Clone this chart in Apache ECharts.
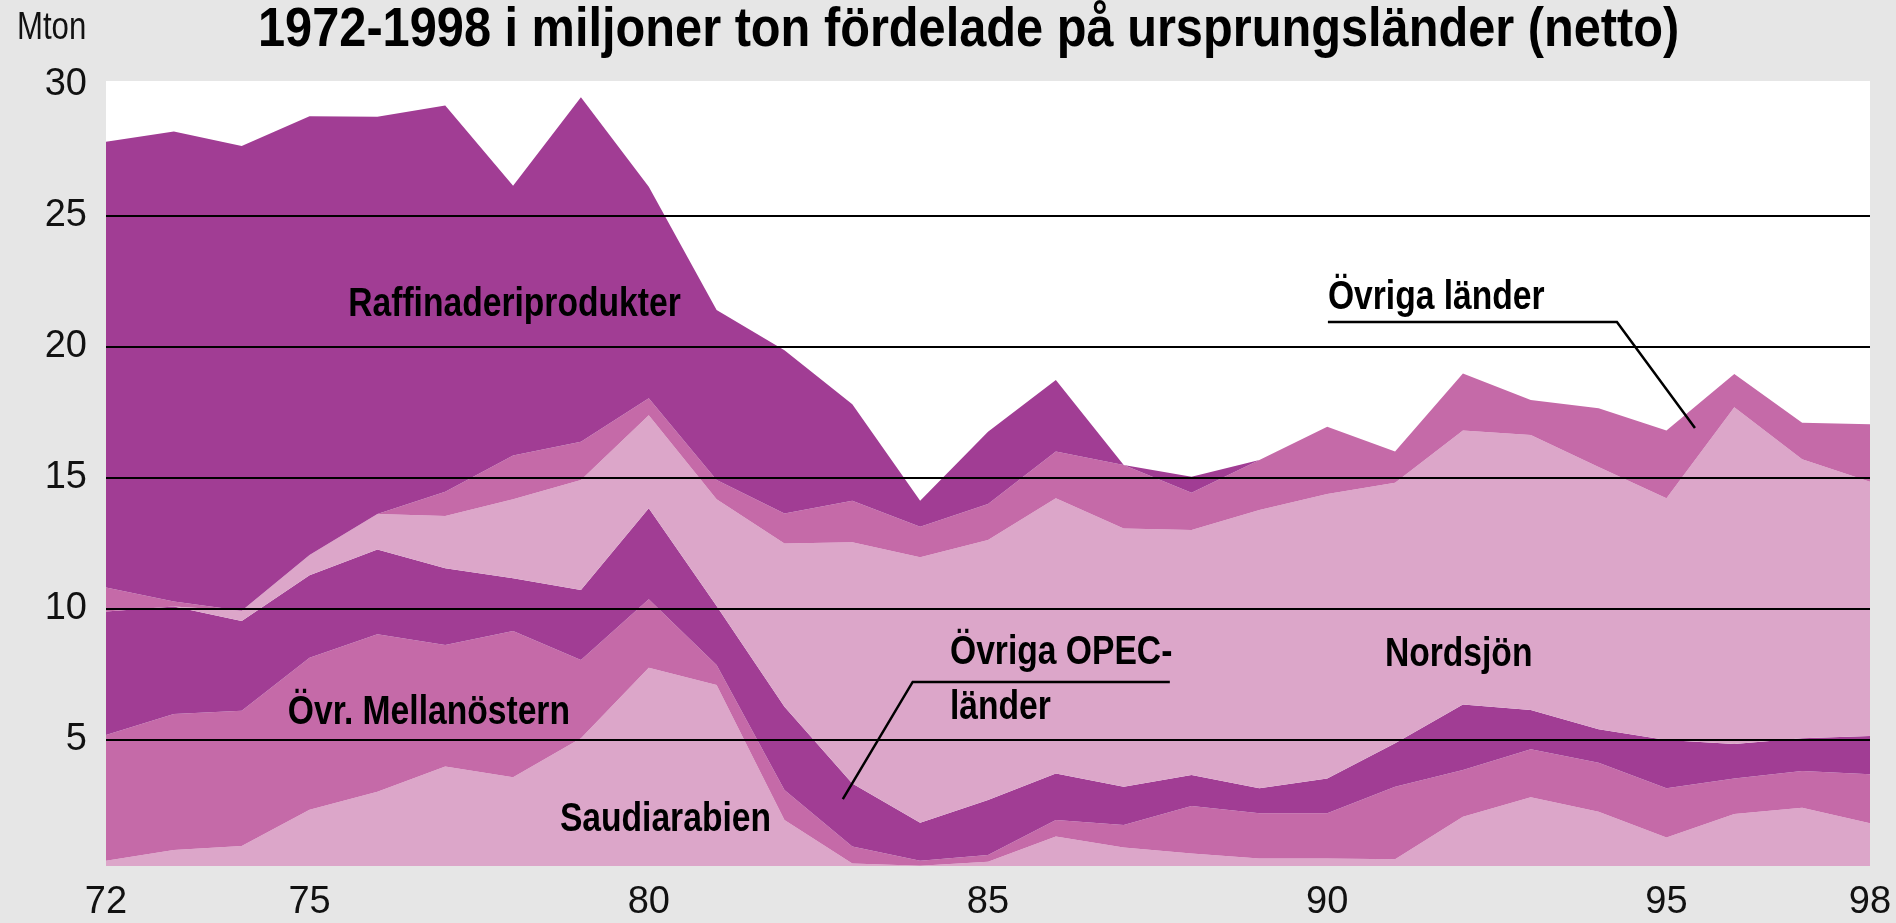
<!DOCTYPE html>
<html><head><meta charset="utf-8">
<script src="https://cdn.jsdelivr.net/npm/echarts@6/dist/echarts.min.js"></script>
<style>html,body{margin:0;padding:0;background:#e6e6e6;} #c{width:1896px;height:923px;}</style>
</head><body><div id="c"></div>
<script>
// ---- data (Mton) ----
const years = ['72','73','74','75','76','77','78','79','80','81','82','83','84','85','86','87','88','89','90','91','92','93','94','95','96','97','98'];
const saudiarabien = [0.39,0.80,0.95,2.33,3.02,3.98,3.57,5.06,7.75,7.09,1.94,0.29,0.20,0.35,1.31,0.90,0.67,0.48,0.48,0.45,2.07,2.81,2.26,1.28,2.17,2.41,1.82];
const ovrMellanostern = [4.79,5.19,5.16,5.80,6.01,4.64,5.58,2.98,2.61,0.76,1.15,0.64,0.19,0.26,0.63,0.85,1.81,1.72,1.72,2.76,1.78,1.83,1.87,1.87,1.36,1.40,1.87];
const ovrigaOpec = [4.71,4.09,3.42,3.15,3.23,2.92,2.01,2.67,3.47,2.25,3.17,2.41,1.45,2.10,1.78,1.46,1.18,0.95,1.33,1.66,2.50,1.50,1.27,1.84,1.31,1.25,1.46];
const nordsjon = [0,0,0.39,0.77,1.35,1.99,3.01,4.20,3.55,4.07,6.23,9.19,10.12,9.91,10.49,9.85,9.34,10.61,10.84,9.93,10.44,10.48,10.00,9.22,12.84,10.64,9.69];
const ovrigaLander = [0.92,0.19,0,0,0,0.93,1.67,1.46,0.64,0.74,1.14,1.59,1.16,1.37,1.78,2.42,1.42,1.91,2.57,1.19,2.18,1.34,2.24,2.58,1.27,1.39,2.19];
const raffinaderiprodukter = [16.99,17.92,17.72,16.73,15.15,14.73,10.29,13.13,8.07,6.48,6.22,3.68,1.00,2.76,2.73,0,0.61,0,0,0,0,0,0,0,0,0,0];
const yTickLabels = [5,10,15,20,25,30];
const gridValues = [5,10,15,20,25];
const xTickLabels = ['72','75','80','85','90','95','98'];

const FN = "'Liberation Sans',Arial,sans-serif";
const COL = {dark:'#a13d94', mid:'#c56aa8', light:'#dca6c9'};

const chart = echarts.init(document.getElementById('c'), null, {renderer:'canvas'});
function areaSeries(name, data, color){
  return {name:name, type:'line', stack:'total', data:data, symbol:'none', showSymbol:false,
    lineStyle:{width:0}, areaStyle:{color:color, opacity:1}, itemStyle:{color:color},
    emphasis:{disabled:true}, silent:true, z:2};
}
chart.setOption({
  animation:false,
  backgroundColor:'#e6e6e6',
  grid:{left:106, right:26, top:81, bottom:57, show:true, backgroundColor:'#fff', borderWidth:0},
  xAxis:{type:'category', data:years, boundaryGap:false,
    axisLine:{show:false}, axisTick:{show:false}, splitLine:{show:false},
    axisLabel:{interval:function(i,v){return xTickLabels.indexOf(v)>=0;}, fontFamily:FN, fontSize:38, color:'#111', margin:18}},
  yAxis:{type:'value', min:0.19, max:30.12,
    axisLine:{show:false}, axisTick:{show:false}, splitLine:{show:false},
    axisLabel:{customValues:yTickLabels, fontFamily:FN, fontSize:38, color:'#111', margin:19, padding:[0,0,12,0]}},
  series:[
    areaSeries('Saudiarabien', saudiarabien, COL.light),
    areaSeries('Övr. Mellanöstern', ovrMellanostern, COL.mid),
    areaSeries('Övriga OPEC-länder', ovrigaOpec, COL.dark),
    areaSeries('Nordsjön', nordsjon, COL.light),
    areaSeries('Övriga länder', ovrigaLander, COL.mid),
    areaSeries('Raffinaderiprodukter', raffinaderiprodukter, COL.dark),
    {type:'line', data:[], silent:true, z:5,
      markLine:{silent:true, symbol:'none', animation:false, label:{show:false},
        lineStyle:{color:'#000', width:2.2, type:'solid'},
        data:gridValues.map(function(v){return {yAxis:v};})}}
  ]
});

// annotation positions in data space (year, Mton)
function px(year, val){
  const a = chart.convertToPixel({gridIndex:0}, [years[0], val]);
  const b = chart.convertToPixel({gridIndex:0}, [years[years.length-1], val]);
  const t = (year - 72) / (98 - 72);
  return [a[0] + t*(b[0]-a[0]), a[1]];
}
const labels = [
  ['Raffinaderiprodukter', 75.57, 21.58],
  ['Övr. Mellanöstern', 74.68, 6.02],
  ['Saudiarabien', 78.69, 1.94],
  ['Övriga OPEC-', 84.44, 8.31],
  ['länder', 84.44, 6.21],
  ['Nordsjön', 90.85, 8.23],
  ['Övriga länder', 90.01, 21.85]
];
const leaders = [
  [[90.01,20.93],[94.27,20.93],[95.42,16.89]],
  [[82.86,2.74],[83.89,7.21],[87.68,7.21]]
];
const graphic = [];
labels.forEach(function(l){
  const p = px(l[1], l[2]);
  graphic.push({type:'text', x:p[0], y:p[1], scaleX:0.82, z:100, silent:true,
    style:{text:l[0], fill:'#000', font:'bold 41px ' + FN, align:'left', verticalAlign:'middle'}});
});
leaders.forEach(function(pts){
  graphic.push({type:'polyline', z:100, silent:true,
    shape:{points:pts.map(function(q){return px(q[0], q[1]);})},
    style:{stroke:'#000', lineWidth:2.5, fill:null}});
});
graphic.push({type:'text', x:17, y:29, scaleX:0.82, z:100, silent:true,
  style:{text:'Mton', fill:'#111', font:'38px ' + FN, align:'left', verticalAlign:'middle'}});
graphic.push({type:'text', x:258, y:31, scaleX:0.87, z:100, silent:true,
  style:{text:'1972-1998 i miljoner ton fördelade på ursprungsländer (netto)', fill:'#000',
    font:'bold 56px ' + FN, align:'left', verticalAlign:'middle'}});
chart.setOption({graphic:graphic});
</script>
</body></html>
